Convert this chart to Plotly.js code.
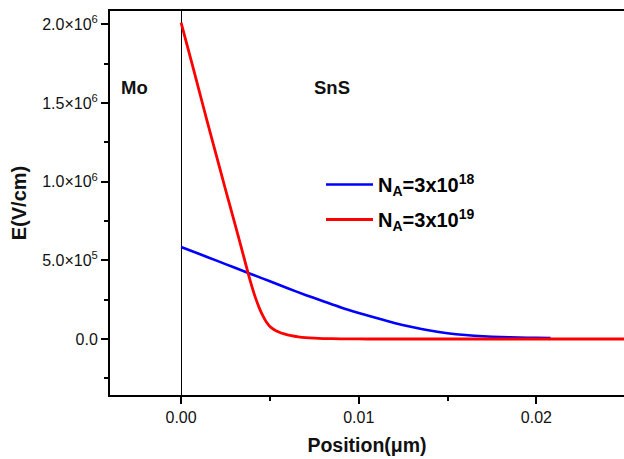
<!DOCTYPE html>
<html>
<head>
<meta charset="utf-8">
<script src="https://cdn.plot.ly/plotly-3.0.1.min.js"></script>
<style>
  html, body { margin: 0; padding: 0; background: #fff; overflow: hidden; }
  #chart { width: 624px; height: 459px; }
</style>
</head>
<body>
<div id="chart"></div>
<script>
// Position (µm) and electric field E (V/cm)
const posLow = [0, 0.001, 0.002, 0.003, 0.004, 0.005, 0.006, 0.007, 0.008, 0.009, 0.010,
                0.011, 0.012, 0.013, 0.014, 0.015, 0.016, 0.017, 0.018, 0.019, 0.020, 0.0208];
const fieldLow = [5.85e5, 5.42e5, 4.98e5, 4.54e5, 4.10e5, 3.67e5, 3.22e5, 2.80e5, 2.40e5, 2.00e5, 1.65e5,
                  1.33e5, 1.02e5, 7.6e4, 5.4e4, 3.7e4, 2.5e4, 1.7e4, 1.2e4, 9e3, 7e3, 6e3];

const posHigh = [0, 0.0005, 0.001, 0.0015, 0.002, 0.0025, 0.003, 0.0035, 0.0038, 0.0040, 0.0042,
                 0.0044, 0.0046, 0.0048, 0.0050, 0.0052, 0.0055, 0.0058, 0.0062, 0.0066, 0.0070,
                 0.0075, 0.0080, 0.0090, 0.0100, 0.0110, 0.015, 0.020, 0.026];
const fieldHigh = [2.01e6, 1.80e6, 1.585e6, 1.37e6, 1.16e6, 0.95e6, 0.745e6, 0.535e6, 4.08e5, 3.28e5, 2.58e5,
                   1.98e5, 1.48e5, 1.08e5, 8.0e4, 6.2e4, 4.4e4, 3.2e4, 2.1e4, 1.35e4, 8.5e3,
                   5e3, 3e3, 1e3, 300, 0, 0, 0, 0];

const seriesNames = ['N<sub>A</sub>=3x10<sup>18</sup>', 'N<sub>A</sub>=3x10<sup>19</sup>'];
const seriesColors = ['#0000ff', '#ff0000'];

const yTickVals = [0, 5e5, 1e6, 1.5e6, 2e6];
const yTickText = ['0.0', '5.0×10<sup>5</sup>', '1.0×10<sup>6</sup>', '1.5×10<sup>6</sup>', '2.0×10<sup>6</sup>'];

const regionLabels = ['Mo', 'SnS'];
const regionX = [-0.0026, 0.0085];
const regionY = [1.6e6, 1.6e6];

const FONT = 'Liberation Sans, Arial, Helvetica, sans-serif';

const traces = [
  { x: posLow, y: fieldLow, name: seriesNames[0], legendgroup: 'a', type: 'scatter', mode: 'lines',
    line: { color: seriesColors[0], width: 2.6, shape: 'spline', smoothing: 0.5 } },
  { x: posHigh, y: fieldHigh, name: seriesNames[1], legendgroup: 'b', type: 'scatter', mode: 'lines',
    line: { color: seriesColors[1], width: 2.8, shape: 'spline', smoothing: 0.5 } }
];

const layout = {
  width: 624, height: 459,
  margin: { l: 110, r: 0, t: 11, b: 64 },
  paper_bgcolor: '#ffffff', plot_bgcolor: '#ffffff',
  font: { family: FONT, color: '#000', size: 15 },
  showlegend: true,
  legend: {
    x: 0.4105, y: 0.599, xanchor: 'left', yanchor: 'top',
    itemwidth: 47, tracegroupgap: 6,
    bgcolor: 'rgba(0,0,0,0)', borderwidth: 0,
    font: { family: FONT, size: 20, color: '#000', weight: 'bold' }
  },
  xaxis: {
    range: [-0.0040, 0.02493],
    showgrid: false,
    zeroline: true, zerolinecolor: '#000', zerolinewidth: 1,
    showline: true, linecolor: '#000', linewidth: 2, mirror: true,
    ticks: 'outside', ticklen: 7, tickwidth: 2, tickcolor: '#000',
    tick0: 0, dtick: 0.01, tickformat: '.2f',
    minor: { dtick: 0.005, tick0: 0, ticks: 'outside', ticklen: 4, tickwidth: 2, tickcolor: '#000' },
    tickfont: { family: FONT, size: 16, color: '#111' },
    title: { text: 'Position(μm)', font: { family: FONT, size: 19.5, color: '#111', weight: 'bold' }, standoff: 13 }
  },
  yaxis: {
    range: [-3.559e5, 2.0845e6],
    showgrid: false, zeroline: false,
    showline: true, linecolor: '#000', linewidth: 2, mirror: false,
    ticks: 'outside', ticklen: 7, tickwidth: 2, tickcolor: '#000',
    tickmode: 'array', tickvals: yTickVals, ticktext: yTickText,
    minor: { dtick: 2.5e5, tick0: 0, ticks: 'outside', ticklen: 4, tickwidth: 2, tickcolor: '#000' },
    tickfont: { family: FONT, size: 16, color: '#111' },
    title: { text: 'E(V/cm)', font: { family: FONT, size: 20, color: '#111', weight: 'bold' }, standoff: 10 }
  },
  annotations: regionLabels.map((t, i) => ({
    text: t, x: regionX[i], y: regionY[i], xref: 'x', yref: 'y',
    showarrow: false, xanchor: 'center', yanchor: 'middle',
    font: { family: FONT, size: 18.5, color: '#111', weight: 'bold' }
  }))
};

Plotly.newPlot('chart', traces, layout, { displayModeBar: false, staticPlot: true });
</script>
</body>
</html>
